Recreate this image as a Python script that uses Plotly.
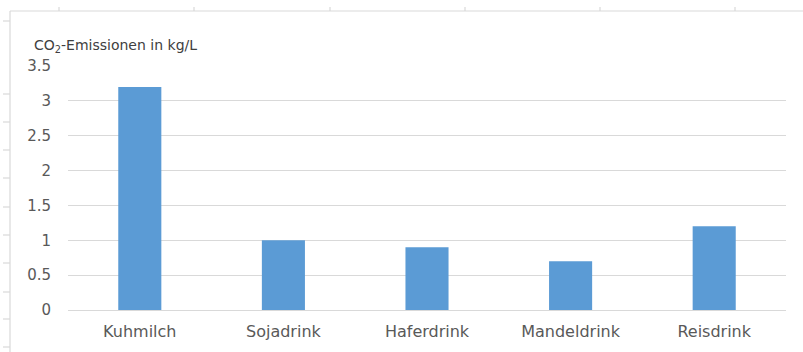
import plotly.graph_objects as go

categories = ["Kuhmilch", "Sojadrink", "Haferdrink", "Mandeldrink", "Reisdrink"]
emissions = [3.2, 1.0, 0.9, 0.7, 1.2]
y_ticks = [0, 0.5, 1, 1.5, 2, 2.5, 3, 3.5]
y_tick_labels = ["0", "0.5", "1", "1.5", "2", "2.5", "3", "3.5"]

W, H = 803, 352
L, R, T, B = 68, 786, 66, 310


def px(x):
    return (x - L) / (R - L)


def py(y):
    return (B - y) / (B - T)


fig = go.Figure(go.Bar(x=categories, y=emissions, marker_color="#5b9bd5",
                       marker_line_width=0, width=0.3))

shapes = []
frame = dict(type="line", xref="paper", yref="paper",
             line=dict(color="#d9d9d9", width=1.2), layer="below")
shapes.append(dict(frame, x0=px(10), x1=px(803), y0=py(11), y1=py(11)))
shapes.append(dict(frame, x0=px(10), x1=px(10), y0=py(11), y1=py(352)))
for xt in [59, 194, 330, 465, 600, 735]:
    shapes.append(dict(frame, x0=px(xt), x1=px(xt), y0=py(7), y1=py(11)))
for yt in [21, 94, 122, 150, 178, 207, 235, 263, 292, 319, 347]:
    shapes.append(dict(frame, x0=px(3), x1=px(10), y0=py(yt), y1=py(yt)))

fig.update_layout(
    width=W, height=H,
    margin=dict(l=L, r=W - R, t=T, b=H - B, autoexpand=False),
    paper_bgcolor="white", plot_bgcolor="white",
    font=dict(family="DejaVu Sans", color="#595959", size=14),
    showlegend=False,
    bargap=0.7,
    shapes=shapes,
    xaxis=dict(showgrid=False, showline=True, linecolor="#d9d9d9", linewidth=1,
               ticks="", tickfont=dict(size=16), ticklabelstandoff=7,
               automargin=False, fixedrange=True),
    yaxis=dict(range=[0, 3.5], tickvals=y_ticks, ticktext=y_tick_labels,
               showgrid=True, gridcolor="#d9d9d9", gridwidth=1,
               zeroline=False, showline=False, ticks="",
               tickfont=dict(size=15), ticklabelstandoff=16,
               automargin=False, fixedrange=True),
    annotations=[dict(text="CO<sub>2</sub>-Emissionen in kg/L", xref="paper", yref="paper",
                      x=px(32), y=py(46), xanchor="left", yanchor="middle",
                      showarrow=False, font=dict(size=14, color="#404040"))],
)

fig.write_html("out.html")
